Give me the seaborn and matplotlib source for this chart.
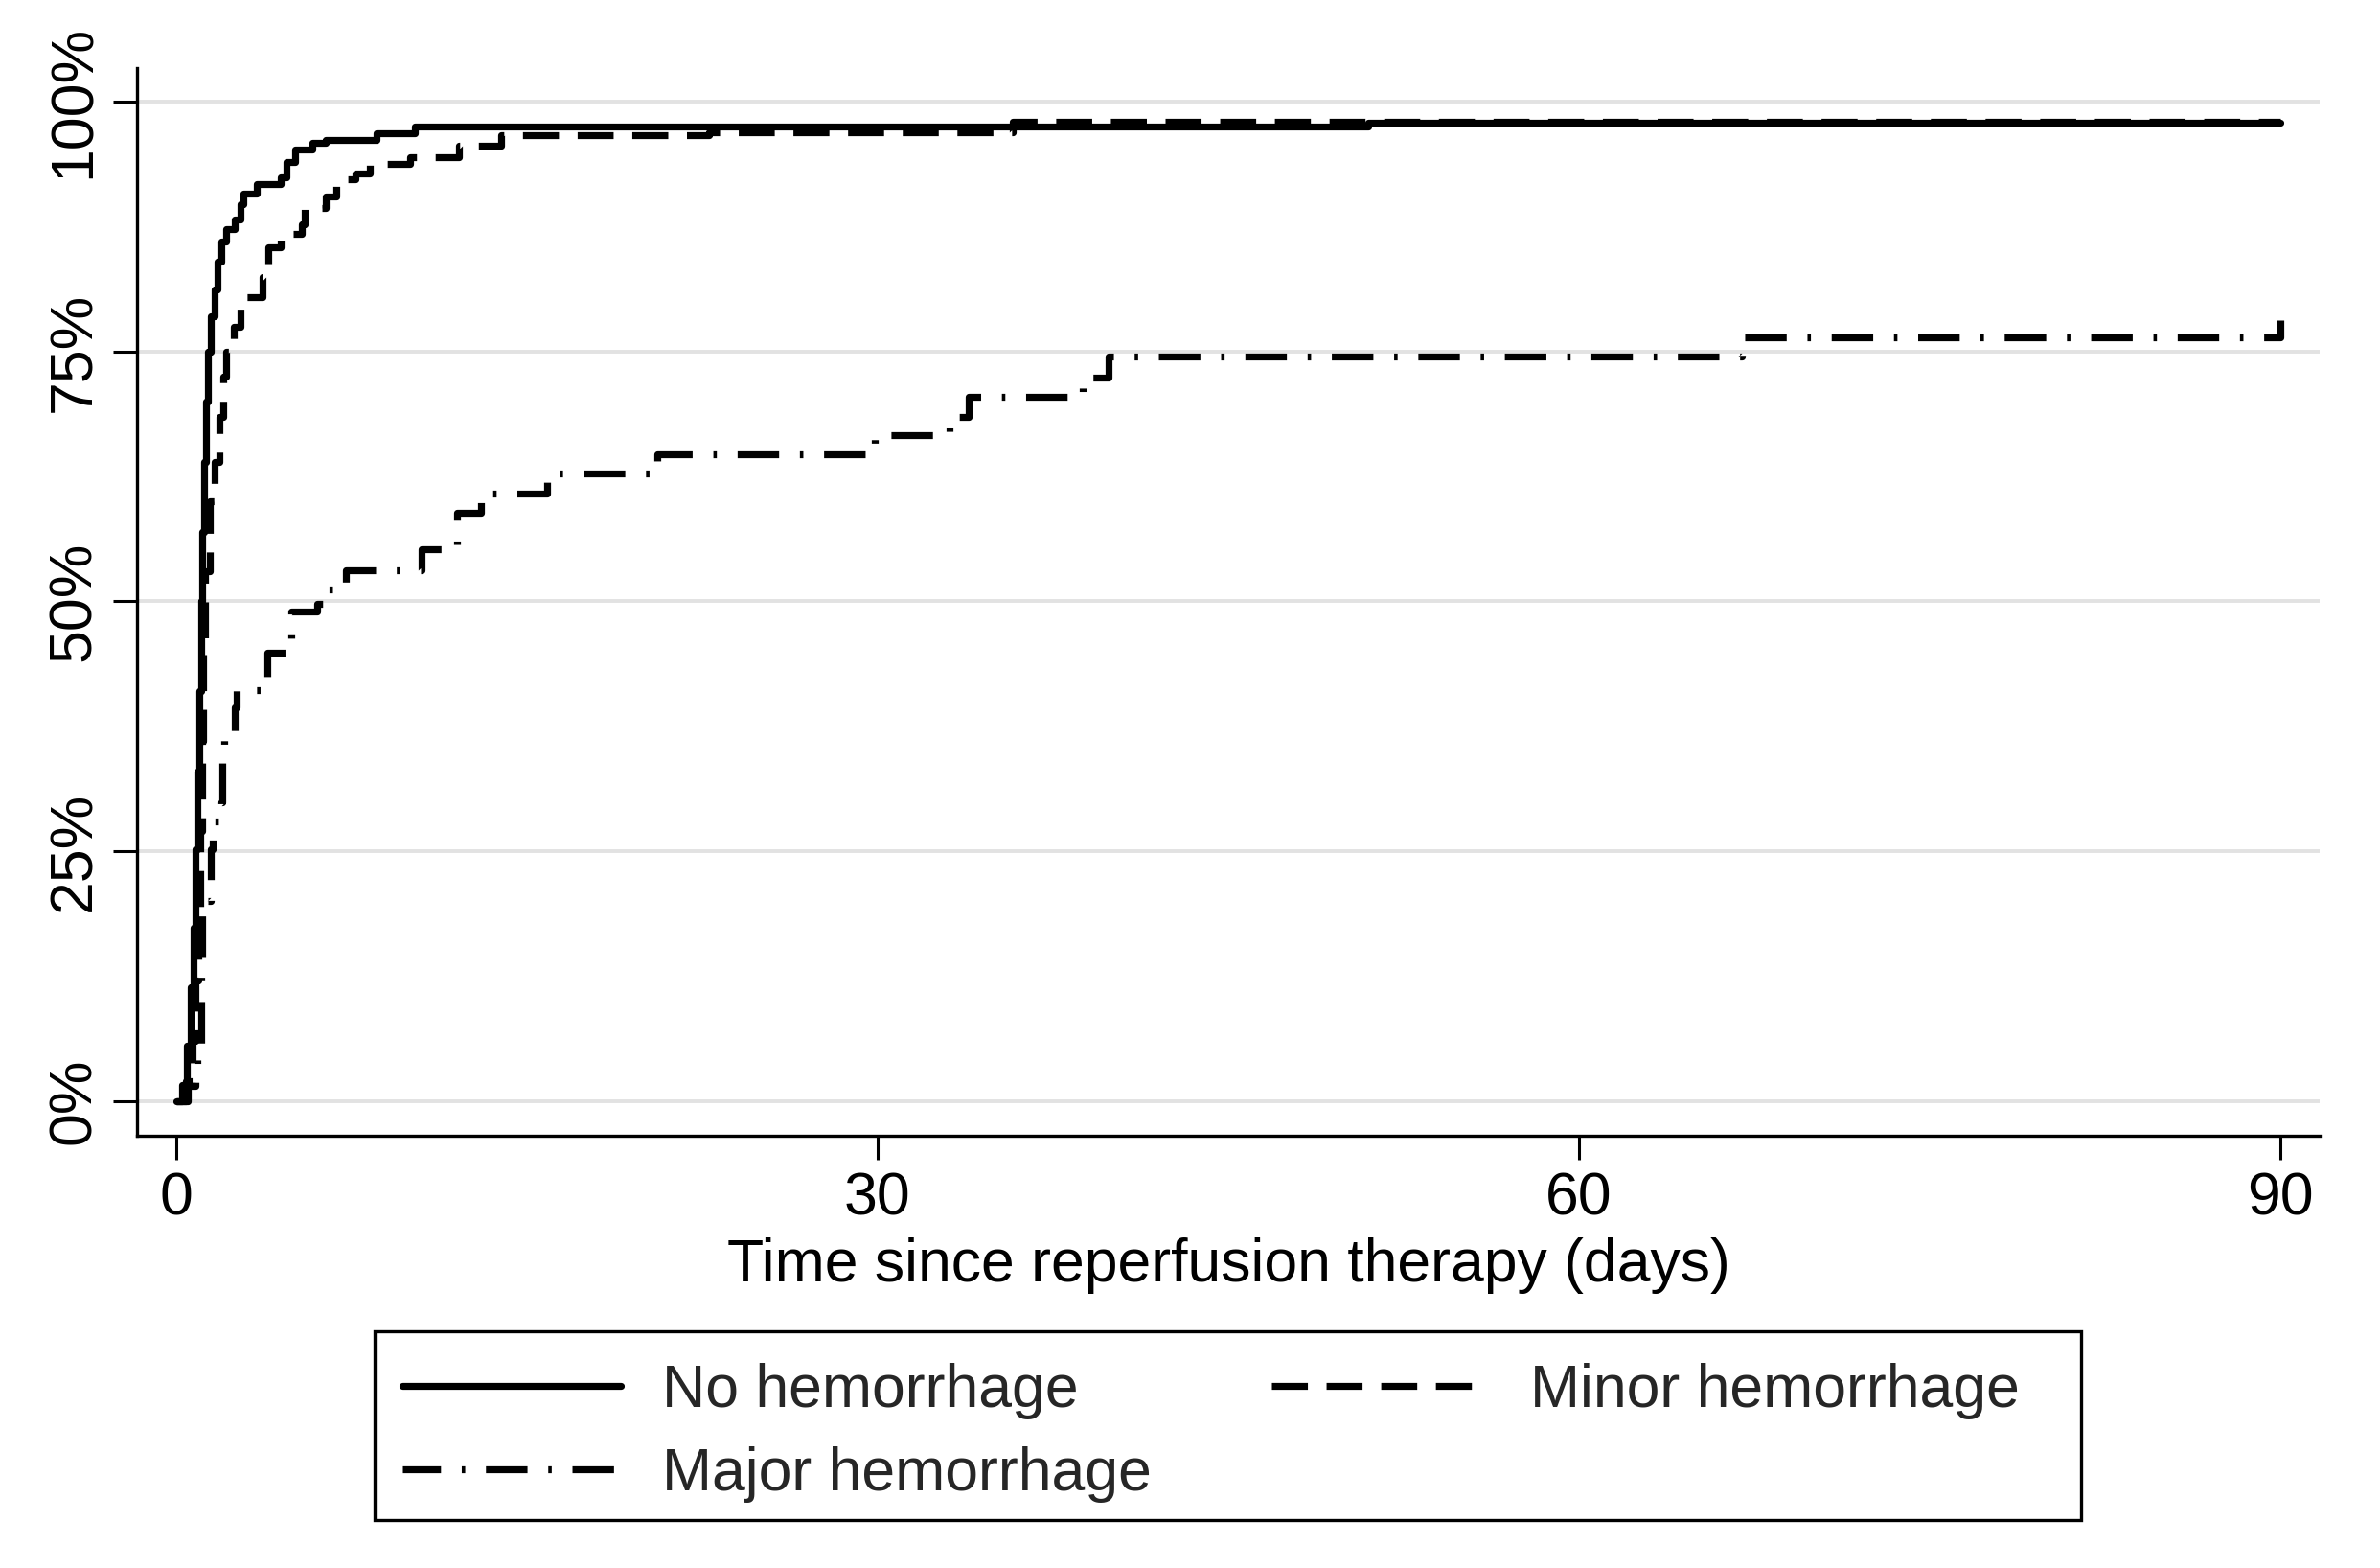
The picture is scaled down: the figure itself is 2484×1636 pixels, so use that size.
import matplotlib
matplotlib.use("Agg")
import matplotlib.pyplot as plt
from matplotlib.patches import Rectangle
import seaborn as sns
import pandas as pd

# ---- data ----
groups = ["No hemorrhage", "Minor hemorrhage", "Major hemorrhage"]

no_days = [0, 0.26, 0.48, 0.63, 0.77, 0.85, 0.92, 1.0, 1.07, 1.14, 1.22, 1.29, 1.36,
           1.5, 1.65, 1.8, 1.94, 2.16, 2.5, 2.75, 2.9, 3.48, 4.5, 4.75, 5.09, 5.82,
           6.41, 8.6, 10.24, 51.0, 90]
no_pct = [0, 1.6, 5.5, 11.4, 17.3, 25.2, 33, 41, 50, 57, 64, 70, 75,
          78.5, 81.2, 84, 86, 87.3, 88.2, 89.8, 90.8, 91.8, 92.5, 94.0, 95.2, 95.9,
          96.2, 96.9, 97.5, 97.9, 97.9]

minor_days = [0, 0.45, 0.7, 0.85, 0.95, 1.05, 1.12, 1.18, 1.25, 1.45, 1.65, 1.87,
              2.02, 2.16, 2.46, 2.75, 2.9, 3.7, 3.95, 4.5, 5.4, 5.5, 6.4, 6.85, 7.7,
              8.3, 10.0, 12.1, 13.9, 22.8, 35.8, 90]
minor_pct = [0, 2, 6, 12, 19, 27, 36, 45, 53, 60, 64, 68.5,
             72.5, 75, 77.5, 79.5, 80.5, 82.5, 85.5, 86.8, 87.8, 89.4, 90.5, 92.3, 92.8,
             93.8, 94.5, 95.6, 96.7, 97.0, 98.0, 98.0]

major_days = [0, 0.5, 0.85, 0.92, 1.07, 1.1, 1.14, 1.36, 1.5, 1.58, 1.94, 2.0, 2.05,
              2.5, 2.6, 3.9, 4.93, 6.04, 6.5, 7.27, 10.5, 12.04, 13.07, 15.9, 20.6,
              29.9, 33.1, 33.9, 38.8, 39.9, 67.0, 90]
major_pct = [0, 1.5, 3.1, 5.5, 9.4, 13.4, 19.3, 20, 25.2, 28, 29.9, 35, 37,
             39.4, 41.1, 44.9, 49, 49.8, 51.2, 53.1, 55.2, 58.9, 60.8, 62.8, 64.7,
             66.6, 68.5, 70.5, 72.4, 74.5, 76.4, 78.2]

x_ticks = [0, 30, 60, 90]
y_ticks = [0, 25, 50, 75, 100]
y_ticklabels = ["0%", "25%", "50%", "75%", "100%"]
x_label = "Time since reperfusion therapy (days)"

df = pd.concat([
    pd.DataFrame({"day": no_days, "pct": no_pct, "group": groups[0]}),
    pd.DataFrame({"day": minor_days, "pct": minor_pct, "group": groups[1]}),
    pd.DataFrame({"day": major_days, "pct": major_pct, "group": groups[2]}),
], ignore_index=True)

# ---- style ----
sns.set_theme(style="white")
plt.rcParams["font.family"] = ["Liberation Sans", "DejaVu Sans"]
FS = 22.5
W, H = 2484, 1636

fig = plt.figure(figsize=(12.42, 8.18), dpi=200)
ax = fig.add_axes([143 / W, 1 - 1185 / H, (2421 - 143) / W, (1185 - 71) / H])

LW = 2.6
styles = {
    groups[0]: dict(linestyle="-", zorder=4),
    groups[1]: dict(linestyle=(0, (5.2, 2.7)), zorder=3),
    groups[2]: dict(linestyle=(0.49, (6, 3, 0.5, 3)), zorder=2),
}
handles = {}
for g in [groups[2], groups[1], groups[0]]:
    sub = df[df["group"] == g]
    sns.lineplot(data=sub, x="day", y="pct", ax=ax, color="black", lw=LW,
                 estimator=None, errorbar=None, sort=False,
                 drawstyle="steps-post", label=g, **styles[g])
    handles[g] = ax.get_lines()[-1]

ax.set_xlim(-1.66, 91.7)
ax.set_ylim(-3.5, 103.4)
ax.set_xticks(x_ticks)
ax.set_xticklabels([str(t) for t in x_ticks])
ax.set_yticks(y_ticks)
ax.set_yticklabels(y_ticklabels)
plt.setp(ax.get_yticklabels(), rotation=90, va="center")

ax.grid(axis="y", color="#e2e2e2", lw=1.4)
ax.grid(axis="x", visible=False)
ax.set_axisbelow(True)
for s in ["top", "right"]:
    ax.spines[s].set_visible(False)
for s in ["left", "bottom"]:
    ax.spines[s].set_color("black")
    ax.spines[s].set_linewidth(1.2)

ax.tick_params(axis="both", which="major", direction="out", length=9, width=1.1,
               color="black", labelsize=FS, labelcolor="black", pad=4,
               bottom=True, left=True)
ax.set_xlabel(x_label, fontsize=FS, color="black", labelpad=4)
ax.set_ylabel("")

# legend box (frame drawn separately to match the reference's padding)
box_l, box_r, box_t, box_b = 391, 2172, 1389, 1586
fig.patches.append(Rectangle((box_l / W, 1 - box_b / H), (box_r - box_l) / W,
                             (box_b - box_t) / H, transform=fig.transFigure,
                             fill=False, edgecolor="black", lw=1.2, zorder=5))

leg_order = [groups[0], groups[2], groups[1]]
leg = fig.legend([handles[g] for g in leg_order], leg_order, ncol=2,
                 loc="center left", bbox_to_anchor=(420 / W, 1 - 1495 / H),
                 fontsize=FS, frameon=False,
                 handlelength=3.65, handletextpad=0.68, columnspacing=2.0,
                 labelspacing=0.45, borderpad=0.0, borderaxespad=0.0)
if ax.get_legend() is not None:
    ax.get_legend().remove()

fig.savefig("out.png", dpi=200, facecolor="white")
